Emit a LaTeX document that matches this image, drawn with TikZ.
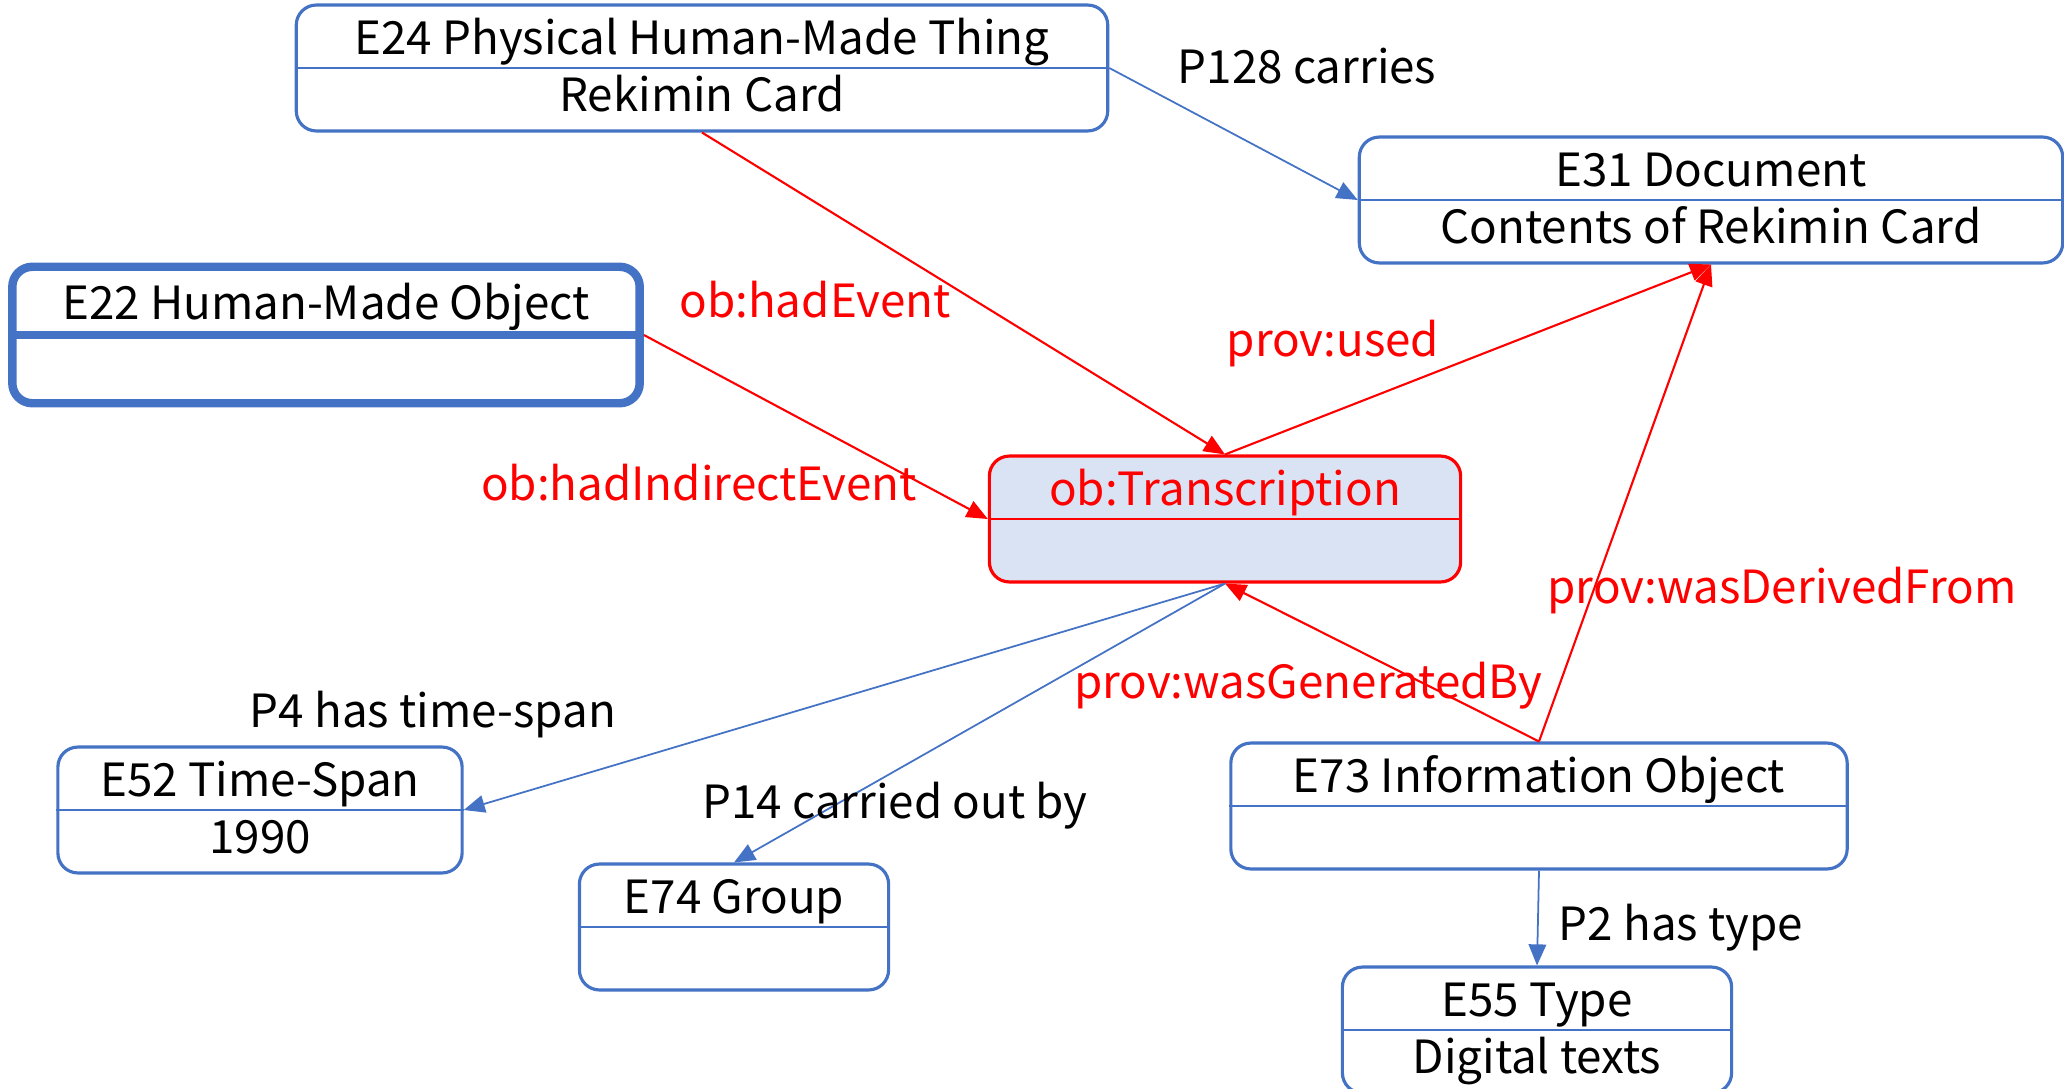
\documentclass[tikz,border=0pt]{standalone}
\usepackage{fontspec}
\setmainfont{Noto Sans CJK JP}
\usepackage{xcolor}
\usetikzlibrary{arrows.meta,shapes.multipart}

\definecolor{crmblue}{HTML}{4472C4}
\definecolor{provred}{HTML}{FF0000}
\definecolor{transfill}{HTML}{DAE3F3}
\newcommand{\kstrut}{\rule[-3.3pt]{0pt}{17pt}}
\newcommand{\kstrutb}{\rule[-5pt]{0pt}{17pt}}

\begin{document}
\begin{tikzpicture}[x=0.01cm, y=-0.01cm,
    font=\fontsize{13pt}{17pt}\selectfont,
    klass/.style={rectangle split, rectangle split parts=2, rectangle split draw splits=false,
      draw=crmblue, line width=0.9pt, rounded corners=0.2cm, inner xsep=4pt, inner ysep=0pt, align=center},
    thick klass/.style={klass, line width=2.4pt},
    event/.style={klass, draw=provred, fill=transfill, text=provred},
    split/.style={draw=crmblue, line width=0.5pt},
    relation/.style={draw=crmblue, line width=0.5pt, -{Triangle[length=6pt,width=5pt]}},
    provrel/.style={draw=provred, line width=0.6pt, -{Triangle[length=6pt,width=5pt]}},
    lbl/.style={inner sep=0pt},
    provlbl/.style={lbl, text=provred}
  ]
    \useasboundingbox (0,0) rectangle (2064,1088);

    % Classes
    \node[klass, minimum width=8.11cm] (e24) at (702,68) {\kstrut E24 Physical Human-Made Thing \nodepart{two}\kstrutb Rekimin Card};
    \node[klass, minimum width=7.03cm] (e31) at (1711,200) {\kstrut E31 Document \nodepart{two}\kstrutb Contents of Rekimin Card};
    \node[thick klass, minimum width=6.27cm] (e22) at (326,335) {\kstrut E22 Human-Made Object \nodepart{two}\kstrutb};
    \node[event, minimum width=4.71cm] (trans) at (1225,519) {\kstrut ob:Transcription \nodepart{two}\kstrutb};
    \node[klass, minimum width=4.04cm] (e52) at (260,810) {\kstrut E52 Time-Span \nodepart{two}\kstrutb 1990};
    \node[klass, minimum width=3.09cm] (e74) at (734,927) {\kstrut E74 Group \nodepart{two}\kstrutb};
    \node[klass, minimum width=6.16cm] (e73) at (1539,806) {\kstrut E73 Information Object \nodepart{two}\kstrutb};
    \node[klass, minimum width=3.89cm] (e55) at (1537,1030) {\kstrut E55 Type \nodepart{two}\kstrutb Digital texts};

    % Splits
    \foreach \n in {e24,e31,e52,e74,e73,e55}
      \draw[split] (\n.text split west) -- (\n.text split east);
    \draw[split, draw=provred] (trans.text split west) -- (trans.text split east);
    \draw[split, line width=2.4pt] (e22.text split west) -- (e22.text split east);

    % CRM properties
    \draw[relation] (e24.text split east) -- (e31.text split west);
    \draw[relation] (trans.south) -- (e52.text split east);
    \draw[relation] (trans.south) -- (e74.north);
    \draw[relation] (e73.south) -- (e55.north);

    % PROV properties
    \draw[provrel] (e24.south) -- (trans.north);
    \draw[provrel] (e22.text split east) -- (trans.text split west);
    \draw[provrel] (trans.north) -- (e31.south);
    \draw[provrel] (e73.north) -- (trans.south);
    \draw[provrel] (e73.north) -- (e31.south);

    % Labels
    \node[lbl] (p128) at (1307,66) {P128 carries};
    \node[lbl] (p4) at (433,715) {P4 has time-span};
    \node[lbl] (p14) at (895,806) {P14 carried out by};
    \node[lbl] (p2) at (1681,928) {P2 has type};
    \node[provlbl] (hadevent) at (815,300) {ob:hadEvent};
    \node[provlbl] (used) at (1333,344) {prov:used};
    \node[provlbl] (indirect) at (699,483) {ob:hadIndirectEvent};
    \node[provlbl] (derived) at (1782,591) {prov:wasDerivedFrom};
    \node[provlbl] (generated) at (1308,686) {prov:wasGeneratedBy};
  \end{tikzpicture}
\end{document}
